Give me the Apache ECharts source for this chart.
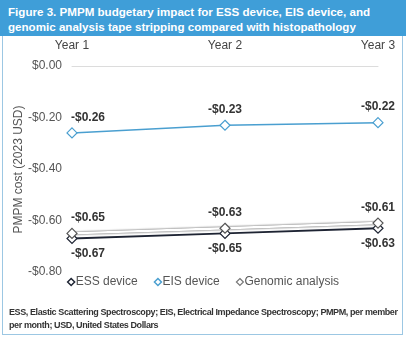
<!DOCTYPE html>
<html>
<head>
<meta charset="utf-8">
<script src="https://cdn.jsdelivr.net/npm/echarts@6/dist/echarts.min.js"></script>
<style>
  html, body { margin: 0; padding: 0; background: #fff; }
  #wrap { position: relative; width: 406px; height: 339px; overflow: hidden; font-family: Arial, "Liberation Sans", sans-serif; }
  #title { position: absolute; left: 0; top: 0; width: 406px; height: 36px; background: #3f9ed8; color: #fff;
           font-weight: bold; font-size: 11.6px; line-height: 15px; padding: 4px 0 0 8px; box-sizing: border-box; }
  #frame { position: absolute; left: 2px; top: 36px; width: 401px; height: 299px; border: 1.5px solid #9cc7e3; border-top: none; box-sizing: border-box; }
  #chart { position: absolute; left: 0; top: 0; width: 406px; height: 339px; }
  #note { position: absolute; left: 9px; top: 306px; white-space: nowrap; font-size: 9px; letter-spacing: -0.4px; line-height: 13px; color: #333; font-weight: bold; }
</style>
</head>
<body>
<div id="wrap">
  <div id="frame"></div>
  <div id="chart"></div>
  <div id="title">Figure 3. PMPM budgetary impact for ESS device, EIS device, and<br>genomic analysis tape stripping compared with histopathology</div>
  <div id="note">ESS, Elastic Scattering Spectroscopy; EIS, Electrical Impedance Spectroscopy; PMPM, per member<br>per month; USD, United States Dollars</div>
</div>
<script>
// Budget impact per member per month, by year
const years = ['Year 1', 'Year 2', 'Year 3'];
const essDevice = [-0.67, -0.65, -0.63];
const eisDevice = [-0.26, -0.23, -0.22];
const genomicAnalysis = [-0.65, -0.63, -0.61];

const fmt = v => (v < 0 ? '-$' : '$') + Math.abs(v).toFixed(2);

// first point's label sits to the right of its marker
function points(values, pos) {
  return values.map((v, i) => ({
    value: v,
    label: { position: pos, offset: i === 0 ? [16, 0] : [0, 0] }
  }));
}

const labelStyle = { show: true, formatter: p => fmt(p.value), fontWeight: 'bold', fontSize: 12, color: '#333', distance: 4 };

const chart = echarts.init(document.getElementById('chart'), null, { renderer: 'canvas' });
chart.setOption({
  animation: false,
  textStyle: { fontFamily: 'Arial, "Liberation Sans", sans-serif' },
  grid: { left: 72, right: 28, top: 66, bottom: 67 },
  xAxis: {
    type: 'category', data: years, position: 'top', boundaryGap: false,
    axisLine: { lineStyle: { color: '#dcdcdc' } },
    axisTick: { show: false },
    axisLabel: { color: '#444', fontSize: 12, margin: 14 }
  },
  yAxis: {
    type: 'value', min: -0.8, max: 0, interval: 0.2,
    splitLine: { show: false },
    axisLine: { show: false }, axisTick: { show: false },
    axisLabel: { color: '#555', fontSize: 12, margin: 10, formatter: v => fmt(v) }
  },
  // vertical axis title
  graphic: [{
    type: 'text', left: 13, top: 'middle', rotation: Math.PI / 2,
    style: { text: 'PMPM cost (2023 USD)', fill: '#555', font: '12px Arial, "Liberation Sans", sans-serif' }
  }],
  legend: {
    bottom: 46, left: 'center', itemGap: 16, itemWidth: 7, itemHeight: 7,
    textStyle: { color: '#555', fontSize: 12, padding: [0, 0, 0, -4] },
    data: [
      { name: 'ESS device', icon: 'diamond', itemStyle: { color: '#fff', borderColor: '#1e2433', borderWidth: 1.5 } },
      { name: 'EIS device', icon: 'diamond', itemStyle: { color: '#fff', borderColor: '#4a9fd0', borderWidth: 1.5 } },
      { name: 'Genomic analysis', icon: 'diamond', itemStyle: { color: '#fff', borderColor: '#777', borderWidth: 1.2 } }
    ]
  },
  series: [
    {
      name: 'ESS device', type: 'line', data: points(essDevice, 'bottom'),
      symbol: 'diamond', symbolSize: 10,
      lineStyle: { color: '#1e2433', width: 2 },
      itemStyle: { color: '#fff', borderColor: '#1e2433', borderWidth: 1.2 },
      label: labelStyle, z: 2
    },
    {
      name: 'EIS device', type: 'line', data: points(eisDevice, 'top'),
      symbol: 'diamond', symbolSize: 10,
      lineStyle: { color: '#4a9fd0', width: 1.5 },
      itemStyle: { color: '#fff', borderColor: '#4a9fd0', borderWidth: 1.2 },
      label: labelStyle, z: 3
    },
    {
      name: 'Genomic analysis', type: 'line', data: points(genomicAnalysis, 'top'),
      symbol: 'diamond', symbolSize: 10,
      lineStyle: { color: '#ffffff', width: 2.5, shadowColor: 'rgba(40,40,40,1)', shadowBlur: 2 },
      itemStyle: { color: '#fff', borderColor: '#555', borderWidth: 1.2 },
      label: labelStyle, z: 4
    }
  ]
});
</script>
</body>
</html>
